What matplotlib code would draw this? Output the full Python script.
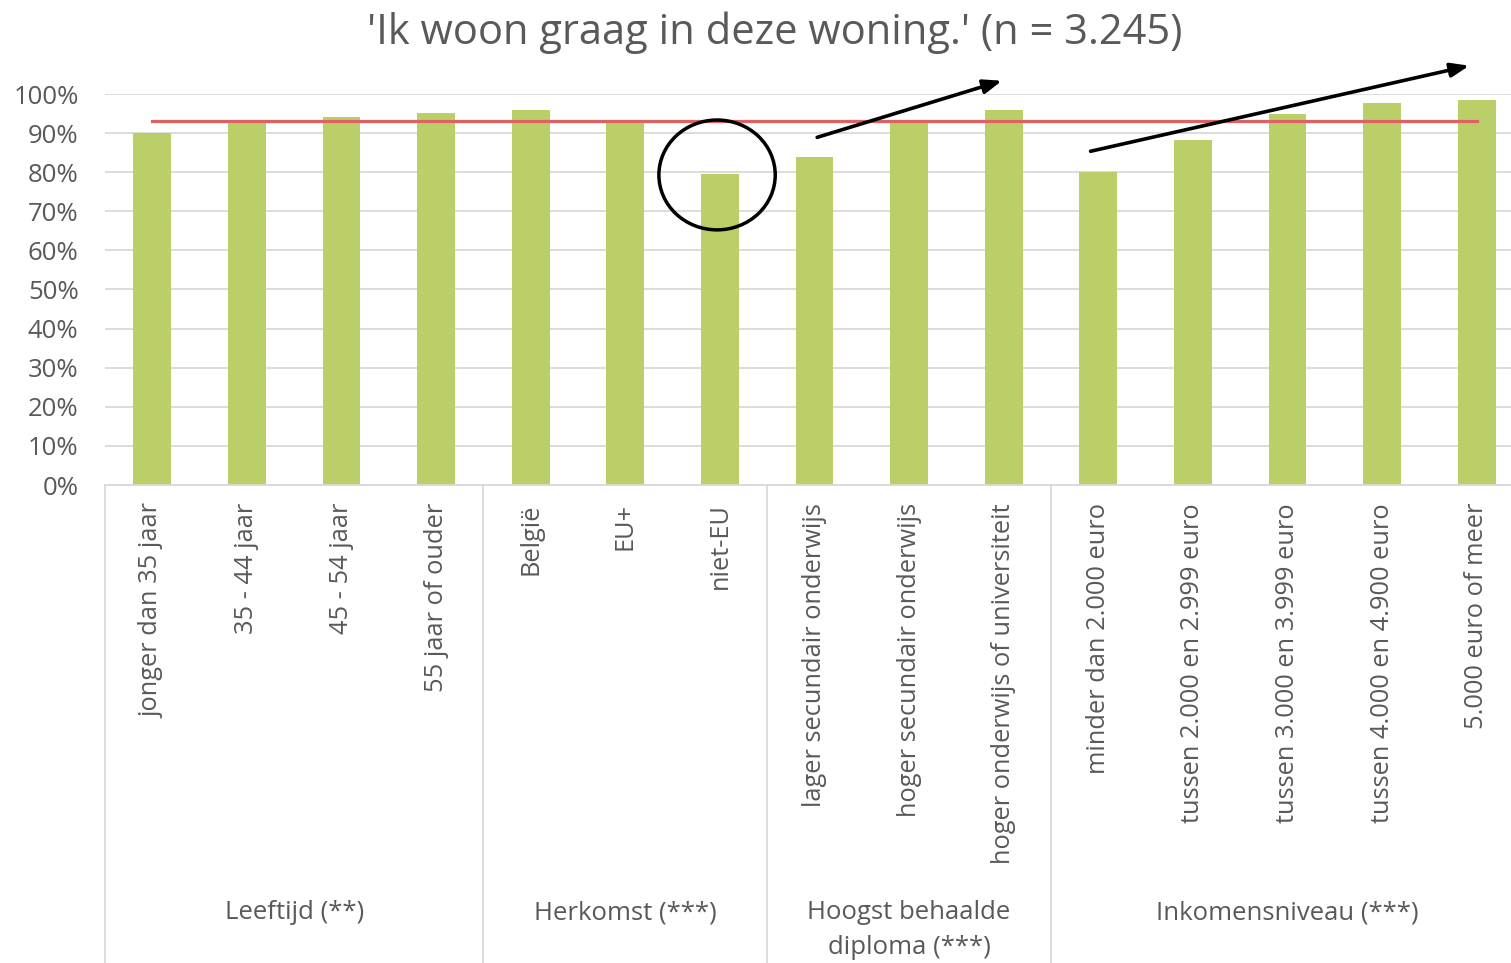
from matplotlib.pyplot import subplots, rcParams
from matplotlib.patches import Ellipse
from matplotlib.ticker  import FuncFormatter, MultipleLocator


categories = [
    'jonger dan 35 jaar', '35 - 44 jaar', '45 - 54 jaar', '55 jaar of ouder',
    'België', 'EU+', 'niet-EU',
    'lager secundair onderwijs', 'hoger secundair onderwijs', 'hoger onderwijs of universiteit',
    'minder dan 2.000 euro', 'tussen 2.000 en 2.999 euro', 'tussen 3.000 en 3.999 euro',
    'tussen 4.000 en 4.900 euro', '5.000 euro of meer',
]
values = [0.899, 0.931, 0.940, 0.951,
          0.959, 0.934, 0.795,
          0.839, 0.931, 0.959,
          0.800, 0.882, 0.949, 0.978, 0.984]
groups       = ['Leeftijd (**)', 'Herkomst (***)', 'Hoogst behaalde\ndiploma (***)', 'Inkomensniveau (***)']
group_sizes  = [4, 3, 3, 5]
average      = 0.931
title        = "'Ik woon graag in deze woning.' (n = 3.245)"

grey  = '#595959'
green = '#bbcf69'
red   = '#de6262'

rcParams['font.family'] = ['Open Sans', 'DejaVu Sans']

fig, ax = subplots(figsize=(15.11, 9.63), dpi=100)
ax.set_position([105 / 1511, 478 / 963, 1419 / 1511, 391 / 963])

x = list(range(len(categories)))
ax.bar(x, values, width=0.4, color=green, zorder=2)
ax.plot([x[0], x[-1]], [average, average], color=red, lw=2.3, zorder=3)

ax.set_xlim(-0.5, len(categories) - 0.5)
ax.set_ylim(0, 1)
ax.yaxis.set_major_locator(MultipleLocator(0.1))
ax.yaxis.set_major_formatter(FuncFormatter(lambda v, p: f'{v * 100:.0f}%'))
ax.grid(axis='y', color='#d9d9d9', lw=1.3, zorder=0)
ax.tick_params(axis='y', length=0, pad=19, labelsize=18.5, labelcolor=grey)
for s in ['top', 'right', 'left']:
    ax.spines[s].set_visible(False)
ax.spines['bottom'].set_color('#d9d9d9')
ax.spines['bottom'].set_linewidth(1.3)

ax.set_xticks(x)
ax.set_xticklabels(categories, rotation=90, va='top', ha='center')
ax.tick_params(axis='x', length=0, pad=13, labelsize=18.3, labelcolor=grey)

# group separators and labels below the axis
tr = ax.get_xaxis_transform()
edge = -0.5
for g, n in zip(groups, group_sizes):
    ax.plot([edge, edge], [0, -1.25], color='#d9d9d9', lw=1.3, transform=tr, clip_on=False)
    ax.text(edge + n / 2, -1.062, g, transform=tr, ha='center', va='top',
            fontsize=18.5, color=grey, linespacing=1.5)
    edge += n
ax.plot([edge, edge], [0, -1.25], color='#d9d9d9', lw=1.3, transform=tr, clip_on=False)

fig.text(775 / 1511, 1 - 33 / 963, title, ha='center', va='center', fontsize=30, color=grey)

# annotations: circle around niet-EU and trend arrows
arrow = dict(arrowstyle='-|>,head_length=1.1,head_width=0.42', color='black', lw=2.6)
ax.add_patch(Ellipse((5.97, 0.793), 1.23, 0.281, fill=False, ec='black', lw=2.5, zorder=4, clip_on=False))
ax.annotate('', xy=(9.01, 1.036), xytext=(7.0, 0.887), annotation_clip=False, arrowprops=arrow)
ax.annotate('', xy=(13.95, 1.074), xytext=(9.89, 0.852), annotation_clip=False, arrowprops=arrow)

fig.savefig('out.png', dpi=100)
